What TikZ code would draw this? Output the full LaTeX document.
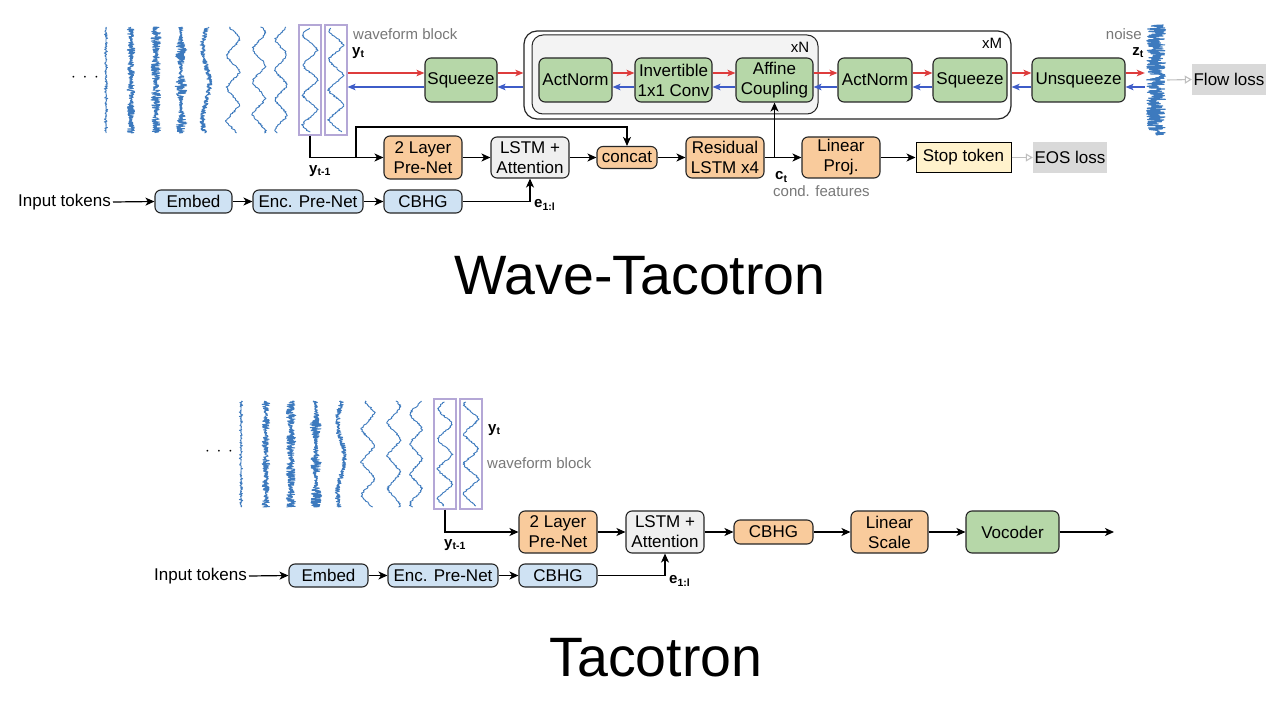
\documentclass[tikz,border=0pt]{standalone}
\usepackage{fontspec}
\setmainfont{Liberation Sans}
\usetikzlibrary{arrows.meta}
\definecolor{wav}{RGB}{61,122,190}
\definecolor{gfill}{RGB}{182,215,168}
\definecolor{ofill}{RGB}{249,203,156}
\definecolor{bfill}{RGB}{207,226,243}
\definecolor{lfill}{RGB}{239,239,239}
\definecolor{yfill}{RGB}{255,242,204}
\definecolor{lossfill}{RGB}{217,217,217}
\definecolor{innerfill}{RGB}{243,243,243}
\definecolor{wbcol}{RGB}{180,167,214}
\definecolor{redarrow}{RGB}{222,60,60}
\definecolor{bluearrow}{RGB}{62,92,200}
\definecolor{labgray}{RGB}{120,120,120}
\newcommand{\fsA}{\fontsize{17}{20}\selectfont}
\newcommand{\fsB}{\fontsize{15}{18}\selectfont}
\newcommand{\fsT}{\fontsize{55.5}{62}\selectfont}
\newcommand{\flowpair}[2]{%
  \draw[redarr] ([yshift=7pt]#1) -- ([yshift=7pt]#2);
  \draw[bluearr] ([yshift=-7pt]#2) -- ([yshift=-7pt]#1);}
\newcommand{\drawwaves}{%
  \draw[wave] plot[domain=27:133,samples=200,variable=\yy] ({106+1.8*pow(rand,3)},\yy);
  \draw[wave] plot[domain=27:133,samples=320,variable=\yy] ({131+4*rand*(0.3+0.7*abs(sin(\yy*9)))},\yy);
  \draw[wave] plot[domain=27:133,samples=340,variable=\yy] ({156+5*rand*(0.45+0.55*abs(sin(\yy*6+40)))},\yy);
  \draw[wave] plot[domain=27:133,samples=340,variable=\yy] ({181+6*rand*(0.25+0.75*pow(abs(sin(\yy*5+10)),2))},\yy);
  \draw[wave] plot[domain=27:133,samples=260,variable=\yy] ({206+3.5*sin(\yy*5+30)+2.5*rand},\yy);
  \draw[wave] plot[domain=27:133,samples=130,variable=\yy] ({233+3*sin(\yy*11+20)+3.5*asin(sin(\yy*11+20))/90+1.1*rand},\yy);
  \draw[wave] plot[domain=27:133,samples=130,variable=\yy] ({259+3*sin(\yy*11+90)+3.5*asin(sin(\yy*11+90))/90+1.1*rand},\yy);
  \draw[wave] plot[domain=27:133,samples=130,variable=\yy] ({281+3*sin(\yy*12+150)+3*asin(sin(\yy*12+150))/90+1.1*rand},\yy);
  \draw[wave] plot[domain=28:132,samples=130,variable=\yy] ({310+3.5*sin(\yy*12+210)+4*asin(sin(\yy*12+210))/90+1.1*rand},\yy);
  \draw[wave] plot[domain=28:132,samples=130,variable=\yy] ({336+3.5*sin(\yy*12+270)+4*asin(sin(\yy*12+270))/90+1.1*rand},\yy);
}
\begin{document}
\begin{tikzpicture}[x=1pt,y=-1pt,
  box/.style={draw=black!85,line width=1.1pt,rounded corners=6pt,align=center,font=\fsA,inner sep=0pt},
  gbox/.style={box,fill=gfill,minimum height=44pt},
  obox/.style={box,fill=ofill},
  bbox/.style={box,fill=bfill,minimum height=23pt},
  lbox/.style={box,fill=lfill},
  lossbox/.style={fill=lossfill,font=\fsA,inner sep=0pt},
  wblock/.style={draw=wbcol,line width=1.1pt,minimum width=22pt,minimum height=110pt,inner sep=0pt},
  wave/.style={draw=wav,line width=0.9pt,line join=round},
  arr/.style={draw=black,line width=1.2pt,-{Stealth[length=9pt,width=8pt,inset=2.5pt]}},
  redarr/.style={draw=redarrow,line width=1.3pt,-{Stealth[length=8pt,width=6.5pt,inset=2pt]}},
  bluearr/.style={draw=bluearrow,line width=1.3pt,-{Stealth[length=8pt,width=6.5pt,inset=2pt]}},
  grayarr/.style={draw=black!25,line width=1.1pt,-{Triangle[open,length=7pt,width=8pt]}},
  lab/.style={font=\fsB,text=labgray,inner sep=1pt},
  blab/.style={font=\fsB\bfseries,inner sep=1pt},
  txt/.style={font=\fsA,inner sep=2pt}]
\fill[white] (0,0) rectangle (1280,706);
\useasboundingbox (0,0) rectangle (1280,706);

% ================= Wave-Tacotron =================
\drawwaves
\node[font=\fsA] (dots1) at (85,78) {$\cdot\,\cdot\,\cdot$};
\node[wblock] (wb1) at (310,80) {};
\node[wblock] (wb2) at (336,80) {};
\node[lab,anchor=west] (wbl1) at (352,34) {waveform block};
\node[blab,anchor=west] (yt1) at (351,53) {y\textsubscript{t}};

% outer / inner containers
\node[draw=black!85,line width=1.2pt,rounded corners=13pt,minimum width=487pt,minimum height=88pt] (outM) at (767.5,75) {};
\node[draw=black!85,line width=1pt,fill=innerfill,rounded corners=11pt,minimum width=286pt,minimum height=79pt] (inN) at (675,74.5) {};
\node[font=\fsB] (xN) at (800,47) {xN};
\node[font=\fsB] (xM) at (992,43) {xM};

\node[gbox,minimum width=72pt] (sq1) at (461,80) {Squeeze};
\node[gbox,minimum width=73pt] (an1) at (575.5,80) {ActNorm};
\node[gbox,minimum width=77pt] (inv) at (673.5,80) {Invertible\\1x1 Conv};
\node[gbox,minimum width=77pt] (aff) at (774.5,80) {Affine\\Coupling};
\node[gbox,minimum width=74pt] (an2) at (875,80) {ActNorm};
\node[gbox,minimum width=74pt] (sq2) at (970,80) {Squeeze};
\node[gbox,minimum width=93pt] (unsq) at (1078.5,80) {Unsqueeze};

% noise
\draw[wav,line width=1.1pt,line join=round] plot[domain=25:135,samples=300,variable=\yy] ({1156+9.5*rand},\yy);
\node[minimum width=22pt,minimum height=110pt,inner sep=0pt] (nz) at (1156,80) {};
\node[lab,anchor=east] (noisel) at (1143,34) {noise};
\node[blab,anchor=east] (zt) at (1145,53) {z\textsubscript{t}};
\node[lossbox,minimum width=74pt,minimum height=31pt] (flow) at (1229,79.5) {Flow loss};

\path (outM.west |- sq1.east) coordinate (mL);
\path (outM.east |- sq2.east) coordinate (mR);
\flowpair{wb2.east}{sq1.west}
\flowpair{sq1.east}{mL}
\flowpair{an1.east}{inv.west}
\flowpair{inv.east}{aff.west}
\flowpair{aff.east}{an2.west}
\flowpair{an2.east}{sq2.west}
\flowpair{mR}{unsq.west}
\flowpair{unsq.east}{nz.west}
\draw[grayarr] (nz.east) -- (flow.west);

% second row
\node[obox,minimum width=78pt,minimum height=43pt] (pn1) at (423,157.5) {2 Layer\\Pre-Net};
\node[lbox,minimum width=78pt,minimum height=41pt] (lstm1) at (530,157.5) {LSTM +\\Attention};
\node[obox,minimum width=60pt,minimum height=22pt] (cc) at (627,157.5) {concat};
\node[obox,minimum width=78pt,minimum height=41pt] (res) at (725,157.5) {Residual\\LSTM x4};
\node[obox,minimum width=78pt,minimum height=41pt] (lp) at (841,157.5) {Linear\\Proj.};
\node[box,fill=yfill,draw=black,line width=1pt,rounded corners=0pt,minimum width=95pt,minimum height=30pt] (stop) at (963.5,157.5) {Stop token};
\node[lossbox,minimum width=74pt,minimum height=31pt] (eos) at (1070,157.5) {EOS loss};

\coordinate (br1) at (356,157.5);
\coordinate (loopA) at (356,127);
\draw[arr] (wb1.south) |- (pn1.west);
\draw[arr] (br1) -- (loopA) -| (cc.north);
\draw[arr] (pn1.east) -- (lstm1.west);
\draw[arr] (lstm1.east) -- (cc.west);
\draw[arr] (cc.east) -- (res.west);
\draw[arr] (res.east) -- (lp.west);
\draw[arr] (aff.south |- res.east) -- (aff.south);
\draw[arr] (lp.east) -- (stop.west);
\draw[grayarr] (stop.east) -- (eos.west);
\node[blab] (ytm1) at (320,171) {y\textsubscript{t-1}};
\node[blab,anchor=west] (ct) at (774,177) {c\textsubscript{t}};
\node[lab,anchor=west] (cf) at (772,191) {cond. features};

% input row
\node[txt,anchor=east] (in1) at (113,202) {Input tokens};
\node[bbox,minimum width=77pt] (emb1) at (193.5,201.5) {Embed};
\node[bbox,minimum width=110pt] (enc1) at (308,201.5) {Enc. Pre-Net};
\node[bbox,minimum width=78pt] (cb1) at (423,201.5) {CBHG};
\draw[arr] (in1.east) -- (emb1.west);
\draw[arr] (emb1.east) -- (enc1.west);
\draw[arr] (enc1.east) -- (cb1.west);
\draw[arr] (cb1.east) -| (lstm1.south);
\node[blab,anchor=west] (e1) at (533,205) {e\textsubscript{1:l}};

\node[font=\fsT] (title1) at (640,276) {Wave-Tacotron};

% ================= Tacotron =================
\begin{scope}[shift={(135,374)}]
\drawwaves
\end{scope}
\node[font=\fsA] (dots2) at (219,452) {$\cdot\,\cdot\,\cdot$};
\node[wblock] (wb3) at (445,454) {};
\node[wblock] (wb4) at (471,454) {};
\node[blab,anchor=west] (yt2) at (487,430) {y\textsubscript{t}};
\node[lab,anchor=west] (wbl2) at (486,463) {waveform block};

\node[obox,minimum width=78pt,minimum height=42pt] (pn2) at (558,532) {2 Layer\\Pre-Net};
\node[lbox,minimum width=78pt,minimum height=42pt] (lstm2) at (665,532) {LSTM +\\Attention};
\node[obox,minimum width=79pt,minimum height=24pt] (cb2) at (773.5,532) {CBHG};
\node[obox,minimum width=77pt,minimum height=42pt] (ls) at (889.5,532) {Linear\\Scale};
\node[gbox,minimum width=93pt,minimum height=42pt] (voc) at (1012.5,532) {Vocoder};
\coordinate (out2) at (1114,532);

\draw[arr] (wb3.south) |- (pn2.west);
\draw[arr] (pn2.east) -- (lstm2.west);
\draw[arr] (lstm2.east) -- (cb2.west);
\draw[arr] (cb2.east) -- (ls.west);
\draw[arr] (ls.east) -- (voc.west);
\draw[arr] (voc.east) -- (out2);
\node[blab] (ytm2) at (455,545) {y\textsubscript{t-1}};

\node[txt,anchor=east] (in2) at (249,576) {Input tokens};
\node[bbox,minimum width=79pt] (emb2) at (328.5,575.5) {Embed};
\node[bbox,minimum width=110pt] (enc2) at (443,575.5) {Enc. Pre-Net};
\node[bbox,minimum width=78pt] (cb3) at (558,575.5) {CBHG};
\draw[arr] (in2.east) -- (emb2.west);
\draw[arr] (emb2.east) -- (enc2.west);
\draw[arr] (enc2.east) -- (cb3.west);
\draw[arr] (cb3.east) -| (lstm2.south);
\node[blab,anchor=west] (e2) at (668,581) {e\textsubscript{1:l}};

\node[font=\fsT] (title2) at (656,658) {Tacotron};
\end{tikzpicture}
\end{document}
